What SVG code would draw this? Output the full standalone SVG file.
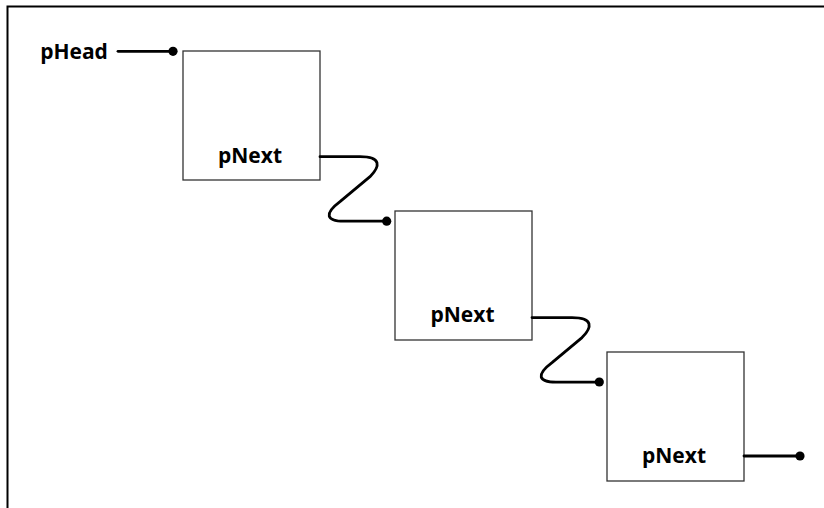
<svg xmlns="http://www.w3.org/2000/svg" width="824" height="508" viewBox="0 0 824 508">
<defs>
<style>
.frame{fill:none;stroke:#000;stroke-width:2}
.box{fill:#fff;stroke:#333;stroke-width:1.3}
.wire{fill:none;stroke:#000;stroke-width:2.8;stroke-linecap:round;stroke-linejoin:round}
.dot{fill:#000}
.lbl{font-family:"Open Sans","Noto Sans","Liberation Sans",sans-serif;font-weight:700;font-size:21px;fill:#000;text-anchor:middle}
</style>
<path id="zig" d="M0,0 H40 C62,0 60,10 50,20 L20,45 C4,57 6,64.5 24,64.5 H63"/>
</defs>
<rect width="824" height="508" fill="#fff"/>
<path class="frame" d="M7.5,508 V6.5 H824"/>
<g id="head">
<text class="lbl" x="74" y="59">pHead</text>
</g>
<g id="node1">
<rect class="box" x="183" y="51" width="137" height="129"/>
<text class="lbl" x="250" y="162.5">pNext</text>
</g>
<g id="node2">
<rect class="box" x="395" y="211" width="137" height="129"/>
<text class="lbl" x="462.5" y="321.7">pNext</text>
</g>
<g id="node3">
<rect class="box" x="607" y="352" width="137" height="129"/>
<text class="lbl" x="674" y="463.3">pNext</text>
</g>
<g id="connectors">
<path class="wire" d="M118,51.3 H173"/>
<circle class="dot" cx="173" cy="51.3" r="4.6"/>
<use href="#zig" class="wire" transform="translate(320,156.7)"/>
<circle class="dot" cx="386.7" cy="221.2" r="4.6"/>
<use href="#zig" class="wire" transform="translate(532,317.6)"/>
<circle class="dot" cx="599.3" cy="382" r="4.6"/>
<path class="wire" d="M744,456 H800"/>
<circle class="dot" cx="800" cy="456" r="4.6"/>
</g>
</svg>
